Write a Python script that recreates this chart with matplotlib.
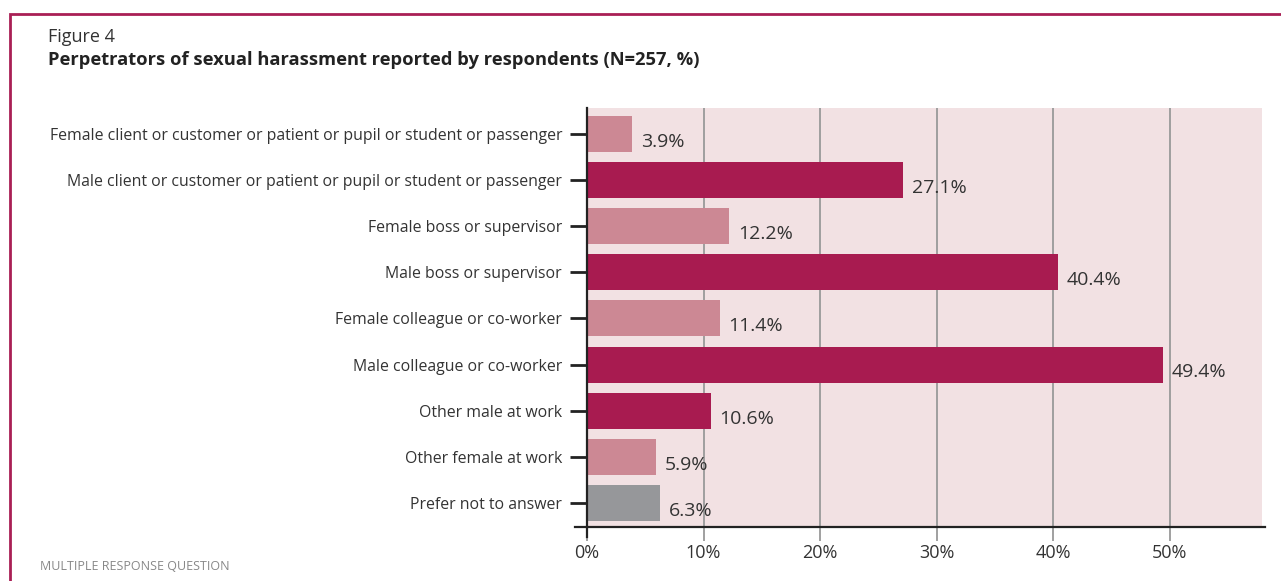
import numpy as np
import matplotlib.pyplot as plt
from matplotlib.lines import Line2D
from matplotlib.patches import Rectangle

plt.rcParams['font.family'] = ['Open Sans', 'DejaVu Sans']

# survey categories, top to bottom
categories = [
    "Female client or customer or patient or pupil or student or passenger",
    "Male client or customer or patient or pupil or student or passenger",
    "Female boss or supervisor",
    "Male boss or supervisor",
    "Female colleague or co-worker",
    "Male colleague or co-worker",
    "Other male at work",
    "Other female at work",
    "Prefer not to answer",
]
shares = [3.9, 27.1, 12.2, 40.4, 11.4, 49.4, 10.6, 5.9, 6.3]
groups = ["female", "male", "female", "male", "female", "male", "male", "female", "none"]
x_ticks = [0, 10, 20, 30, 40, 50]

palette = {"female": "#cc8894", "male": "#a81b50", "none": "#96979a"}
text_col = "#333333"

W, H = 1281, 581
fig = plt.figure(figsize=(W / 100, H / 100), dpi=100)

# page frame
fig.patches.append(Rectangle((10 / W, -0.1), 1.1, (H - 14) / H + 0.1,
                             transform=fig.transFigure, fill=False,
                             edgecolor="#a91f55", linewidth=2))

fig.text(48 / W, 1 - 37 / H, "Figure 4", fontsize=13, color=text_col, va="center")
fig.text(48 / W, 1 - 60 / H, "Perpetrators of sexual harassment reported by respondents (N=257, %)",
         fontsize=13.2, fontweight="bold", color="#222222", va="center")
fig.text(40 / W, 1 - 566 / H, "MULTIPLE RESPONSE QUESTION", fontsize=9,
         color="#888888", va="center")

ax = fig.add_axes([587 / W, 54 / H, (1262 - 587) / W, (527 - 108) / H])
ax.set_facecolor("#f2e1e3")

y = np.arange(len(categories))
ax.barh(y, shares, height=0.78, color=[palette[g] for g in groups], zorder=3)

for yi, v in zip(y, shares):
    ax.text(v + 0.75, yi + 0.17, f"{v}%", va="center", ha="left",
            fontsize=14, color=text_col, zorder=4)

ax.set_xlim(0, 57.9)
ax.set_ylim(8.52, -0.56)
ax.set_xticks(x_ticks)
ax.set_xticklabels([f"{t}%" for t in x_ticks], fontsize=13, color=text_col)
ax.set_yticks(y)
ax.set_yticklabels(categories, fontsize=11.45, color=text_col)

ax.grid(axis="x", color="#999999", linewidth=1.3, zorder=1)
ax.tick_params(axis="x", length=10, width=1.3, color="#999999", pad=2)
ax.tick_params(axis="y", length=12, width=2, color="#222222", pad=6)

for s in ["top", "right"]:
    ax.spines[s].set_visible(False)
ax.spines["left"].set_color("#222222")
ax.spines["left"].set_linewidth(1.6)
ax.spines["left"].set_zorder(5)
ax.spines["bottom"].set_visible(False)

# baseline runs a little past both ends of the plot area
fig.add_artist(Line2D([575 / W, 1265 / W], [54 / H, 54 / H], color="#222222",
                      linewidth=1.6, transform=fig.transFigure))
fig.add_artist(Line2D([587 / W, 587 / W], [44 / H, 54 / H], color="#222222",
                      linewidth=1.6, transform=fig.transFigure))

fig.savefig("out.png", dpi=100)
